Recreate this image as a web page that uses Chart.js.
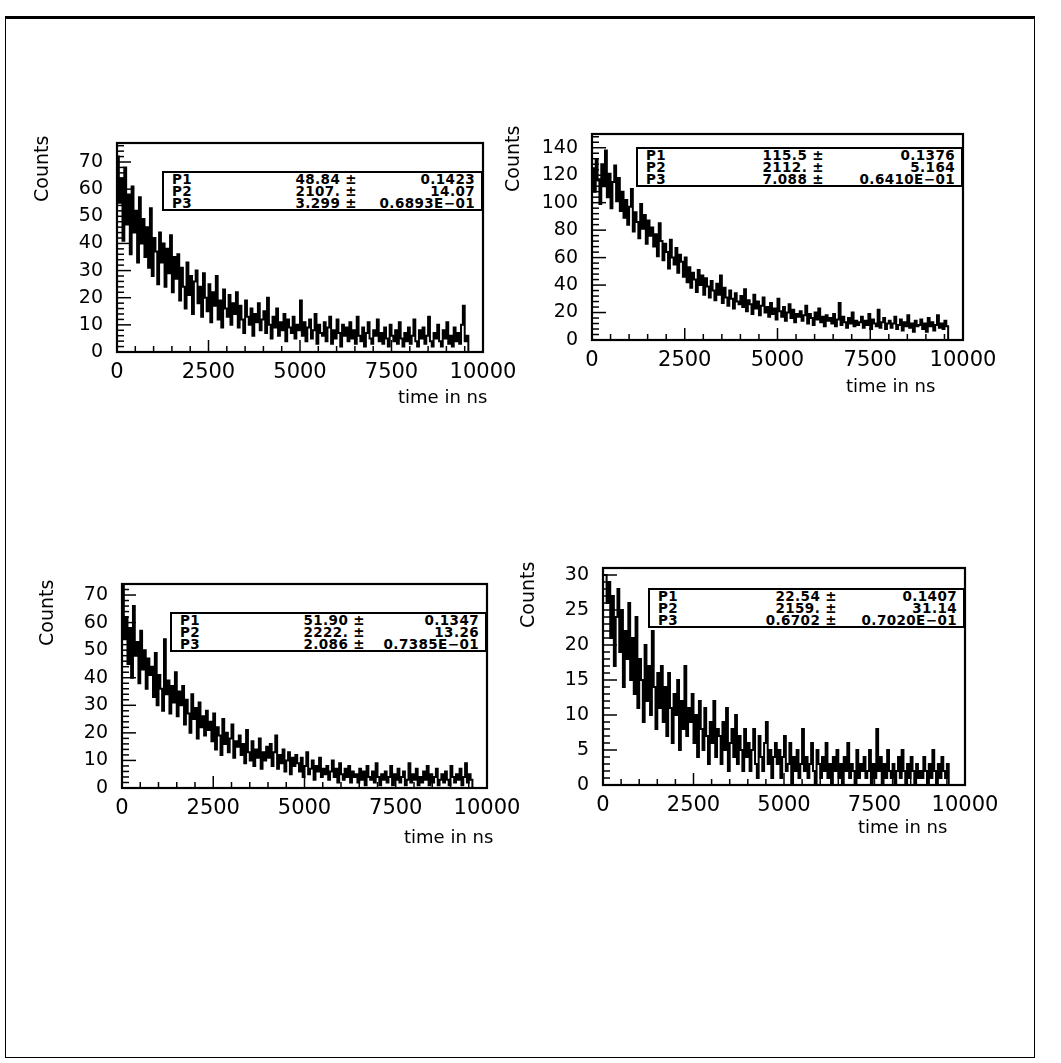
<!DOCTYPE html>
<html>
<head>
<meta charset="utf-8">
<script src="https://cdn.jsdelivr.net/npm/chart.js@4.4.1/dist/chart.umd.min.js"></script>
<style>
  body { margin: 0; background: #fff; width: 1061px; height: 1063px; position: relative; overflow: hidden; font-family: "DejaVu Sans", sans-serif; color: #000; }
  canvas { position: absolute; }
  .frame { position: absolute; left: 5px; top: 16px; width: 1028px; height: 1038px; border: 1.5px solid #000; border-top-width: 3px; }
  .ylab { position: absolute; transform: rotate(-90deg); transform-origin: left top; font-size: 19px; white-space: nowrap; }
  .xlab { position: absolute; font-size: 18px; white-space: nowrap; }
  .fit { position: absolute; border: 2px solid #000; font-size: 13.5px; font-weight: bold; letter-spacing: 0.4px; height: 40px; box-sizing: border-box; padding-top: 0; background: #fff; }
  .fit div { position: relative; height: 12px; line-height: 12px; }
  .fit .n { position: absolute; left: 8px; }
  .fit .v { position: absolute; }
  .fit .e { position: absolute; right: 6px; }
</style>
</head>
<body>
<div class="frame"></div>

<canvas id="c1"></canvas>
<canvas id="c2"></canvas>
<canvas id="c3"></canvas>
<canvas id="c4"></canvas>

<div class="ylab" style="left:30px;top:202px">Counts</div>
<div class="ylab" style="left:501px;top:192px">Counts</div>
<div class="ylab" style="left:35px;top:646px">Counts</div>
<div class="ylab" style="left:516px;top:628px">Counts</div>

<div class="xlab" style="left:398px;top:386px">time in ns</div>
<div class="xlab" style="left:846px;top:375px">time in ns</div>
<div class="xlab" style="left:404px;top:826px">time in ns</div>
<div class="xlab" style="left:858px;top:816px">time in ns</div>

<div class="fit" style="left:162px;top:171px;width:321px">
  <div><span class="n">P1</span><span class="v" style="right:124px">48.84 ±</span><span class="e">0.1423</span></div>
  <div><span class="n">P2</span><span class="v" style="right:124px">2107. ±</span><span class="e">14.07</span></div>
  <div><span class="n">P3</span><span class="v" style="right:124px">3.299 ±</span><span class="e">0.6893E−01</span></div>
</div>
<div class="fit" style="left:636px;top:147px;width:327px">
  <div><span class="n">P1</span><span class="v" style="right:137px">115.5 ±</span><span class="e">0.1376</span></div>
  <div><span class="n">P2</span><span class="v" style="right:137px">2112. ±</span><span class="e">5.164</span></div>
  <div><span class="n">P3</span><span class="v" style="right:137px">7.088 ±</span><span class="e">0.6410E−01</span></div>
</div>
<div class="fit" style="left:170px;top:612px;width:317px">
  <div><span class="n">P1</span><span class="v" style="right:120px">51.90 ±</span><span class="e">0.1347</span></div>
  <div><span class="n">P2</span><span class="v" style="right:120px">2222. ±</span><span class="e">13.26</span></div>
  <div><span class="n">P3</span><span class="v" style="right:120px">2.086 ±</span><span class="e">0.7385E−01</span></div>
</div>
<div class="fit" style="left:648px;top:588px;width:317px">
  <div><span class="n">P1</span><span class="v" style="right:126px">22.54 ±</span><span class="e">0.1407</span></div>
  <div><span class="n">P2</span><span class="v" style="right:126px">2159. ±</span><span class="e">31.14</span></div>
  <div><span class="n">P3</span><span class="v" style="right:126px">0.6702 ±</span><span class="e">0.7020E−01</span></div>
</div>

<script>
// histogram bins: 50 ns wide, starting at 0 (16 bins per row = 800 ns)
const binWidth = 50;
const xTicks = [0, 2500, 5000, 7500, 10000];

// counts per bin
const counts1 = [
  72, 55, 64, 41, 68, 47, 58, 36, 61, 44, 52, 33, 57, 40, 49, 35,
  46, 31, 53, 28, 42, 37, 25, 44, 33, 40, 24, 38, 29, 43, 22, 35,
  27, 36, 19, 31, 24, 16, 33, 21, 28, 14, 26, 30, 18, 24, 13, 29,
  20, 15, 25, 11, 22, 17, 28, 12, 19, 9, 23, 16, 13, 21, 10, 18,
  14, 22, 9, 17, 12, 7, 19, 13, 10, 16, 6, 14, 11, 18, 8, 12,
  15, 7, 20, 10, 5, 13, 9, 16, 6, 11, 8, 14, 4, 12, 9, 7,
  13, 5, 10, 8, 19, 6, 11, 4, 9, 12, 5, 8, 14, 3, 10, 7,
  6, 11, 4, 9, 13, 3, 8, 5, 12, 7, 2, 10, 6, 9, 4, 11,
  5, 8, 3, 13, 6, 4, 9, 2, 7, 11, 5, 3, 8, 6, 12, 4,
  7, 3, 9, 5, 2, 10, 6, 4, 8, 3, 11, 5, 2, 7, 4, 9,
  3, 6, 12, 4, 2, 8, 5, 9, 3, 6, 13, 4, 2, 7, 5, 10,
  4, 2, 8, 5, 11, 3, 6, 2, 9, 4, 7, 3, 10, 17, 4, 6];
const counts2 = [
  125, 108, 131, 117, 99, 128, 112, 138, 104, 121, 96, 115, 127, 101, 118, 94,
  108, 89, 102, 84, 97, 110, 79, 93, 86, 74, 99, 81, 91, 70, 87, 76,
  82, 68, 77, 61, 85, 72, 58, 70, 64, 52, 73, 60, 55, 67, 49, 62,
  57, 46, 60, 42, 53, 38, 49, 44, 35, 51, 40, 47, 33, 45, 39, 31,
  43, 36, 29, 41, 33, 47, 27, 38, 31, 25, 36, 30, 23, 34, 28, 26,
  32, 24, 37, 21, 29, 26, 19, 33, 23, 28, 18, 25, 31, 20, 24, 17,
  27, 19, 23, 15, 30, 21, 17, 24, 14, 20, 26, 16, 22, 13, 19, 17,
  21, 14, 18, 25, 12, 19, 16, 11, 20, 15, 23, 13, 17, 10, 18, 14,
  16, 12, 19, 10, 15, 27, 11, 17, 13, 9, 16, 12, 20, 10, 14, 11,
  13, 17, 9, 14, 11, 19, 8, 15, 12, 10, 22, 9, 13, 16, 8, 12,
  14, 9, 12, 17, 8, 11, 15, 7, 13, 10, 18, 9, 12, 6, 14, 10,
  11, 15, 8, 12, 6, 16, 10, 13, 7, 11, 18, 9, 12, 8, 14, 10];
const counts3 = [
  77, 54, 62, 45, 58, 40, 66, 48, 53, 38, 57, 43, 50, 36, 47, 41,
  44, 33, 49, 30, 41, 36, 28, 54, 34, 39, 27, 37, 31, 42, 26, 35,
  30, 37, 23, 32, 27, 20, 34, 25, 29, 18, 31, 22, 26, 19, 28, 21,
  24, 17, 27, 14, 22, 19, 12, 25, 16, 20, 13, 18, 23, 11, 17, 15,
  19, 12, 16, 9, 21, 13, 10, 17, 8, 14, 11, 18, 7, 13, 10, 15,
  11, 16, 8, 13, 19, 7, 12, 9, 14, 6, 10, 13, 5, 11, 8, 12,
  9, 6, 11, 4, 8, 13, 5, 7, 10, 3, 8, 6, 11, 4, 7, 5,
  8, 3, 6, 10, 4, 7, 2, 9, 5, 3, 7, 4, 8, 2, 6, 4,
  5, 2, 7, 3, 6, 1, 8, 4, 3, 6, 2, 9, 4, 1, 5, 3,
  6, 2, 4, 8, 1, 5, 3, 7, 2, 4, 6, 1, 3, 9, 2, 5,
  3, 7, 1, 4, 2, 6, 3, 8, 1, 5, 2, 4, 7, 1, 3, 5,
  2, 6, 3, 1, 8, 4, 2, 5, 3, 7, 1, 4, 9, 2, 5, 3];
const counts4 = [
  30, 30, 26, 29, 21, 27, 17, 24, 28, 19, 25, 14, 22, 18, 26, 15,
  21, 13, 24, 11, 18, 15, 9, 20, 12, 17, 10, 22, 14, 8, 16, 11,
  17, 9, 14, 7, 16, 11, 6, 13, 10, 15, 5, 12, 8, 17, 7, 11,
  9, 13, 6, 10, 4, 12, 8, 5, 11, 7, 3, 9, 6, 12, 4, 8,
  7, 3, 9, 5, 11, 2, 6, 8, 4, 10, 3, 7, 5, 2, 8, 4,
  6, 2, 5, 8, 3, 1, 7, 4, 2, 6, 9, 3, 5, 1, 4, 6,
  3, 5, 1, 4, 7, 2, 3, 6, 0, 4, 2, 5, 1, 3, 8, 2,
  4, 1, 3, 6, 2, 0, 5, 3, 1, 4, 2, 6, 1, 3, 0, 4,
  2, 5, 1, 3, 0, 4, 2, 6, 1, 3, 2, 0, 5, 1, 3, 2,
  4, 1, 2, 5, 0, 3, 1, 8, 2, 4, 0, 3, 1, 5, 2, 1,
  3, 0, 2, 4, 1, 5, 2, 0, 3, 1, 4, 2, 0, 3, 1, 2,
  1, 4, 2, 0, 3, 1, 5, 2, 0, 3, 1, 4, 2, 1, 3, 0];

// PAW style frame with inward ticks
const pawAxes = {
  id: "pawAxes",
  afterDraw(chart, args, opts) {
    const ctx = chart.ctx;
    const a = chart.chartArea;
    const x = chart.scales.x;
    const y = chart.scales.y;
    ctx.save();
    ctx.strokeStyle = "#000";
    ctx.lineWidth = 1.5;
    const nY = Math.floor(y.max / opts.yMinor + 1e-6);
    for (let i = 0; i <= nY; i++) {
      const v = i * opts.yMinor;
      const r = v / opts.yMajor;
      const major = Math.abs(r - Math.round(r)) < 1e-6;
      const py = y.getPixelForValue(v);
      ctx.beginPath();
      ctx.moveTo(a.left, py);
      ctx.lineTo(a.left + (major ? 14 : 7), py);
      ctx.stroke();
    }
    for (let i = 0; i <= 20; i++) {
      const v = i * 500;
      const major = i % 5 == 0;
      const px = x.getPixelForValue(v);
      ctx.beginPath();
      ctx.moveTo(px, a.bottom);
      ctx.lineTo(px, a.bottom - (major ? 12 : 6));
      ctx.stroke();
    }
    ctx.lineWidth = 2.2;
    ctx.strokeRect(a.left, a.top, a.right - a.left, a.bottom - a.top);
    ctx.restore();
  },
};

function histPoints(counts) {
  const pts = [{ x: 0, y: 0 }];
  counts.forEach((c, i) => pts.push({ x: i * binWidth, y: c }));
  pts.push({ x: counts.length * binWidth, y: counts[counts.length - 1] });
  pts.push({ x: counts.length * binWidth, y: 0 });
  return pts;
}

// box = left, top, right, bottom of the plot frame in page pixels
function makePanel(id, box, counts, yMax, yMajor, yMinor) {
  const padL = 80, padT = 10, padR = 50, padB = 48;
  const cv = document.getElementById(id);
  cv.width = box[2] - box[0] + padL + padR;
  cv.height = box[3] - box[1] + padT + padB;
  cv.style.left = box[0] - padL + "px";
  cv.style.top = box[1] - padT + "px";
  new Chart(cv, {
    type: "line",
    data: {
      datasets: [
        {
          data: histPoints(counts),
          borderColor: "#000",
          borderWidth: 2,
          pointRadius: 0,
          stepped: true,
          fill: false,
        },
      ],
    },
    options: {
      responsive: false,
      animation: false,
      layout: { padding: { left: 0, top: padT, right: padR, bottom: 0 } },
      plugins: {
        legend: { display: false },
        tooltip: { enabled: false },
        pawAxes: { yMajor: yMajor, yMinor: yMinor },
      },
      scales: {
        x: {
          type: "linear",
          min: 0,
          max: 10000,
          afterFit: (s) => { s.height = padB; s.paddingLeft = 0; s.paddingRight = 0; },
          afterBuildTicks: (s) => { s.ticks = xTicks.map((v) => ({ value: v })); },
          grid: { display: false, drawTicks: false },
          border: { display: false },
          ticks: {
            color: "#000", padding: 8, maxRotation: 0, autoSkip: false,
            font: { family: "DejaVu Sans", size: 21 },
            callback: (v) => String(v),
          },
        },
        y: {
          min: 0,
          max: yMax,
          afterFit: (s) => { s.width = padL; s.paddingTop = 0; s.paddingBottom = 0; },
          grid: { display: false, drawTicks: false },
          border: { display: false },
          ticks: {
            color: "#000", padding: 14, stepSize: yMajor, includeBounds: false,
            font: { family: "DejaVu Sans", size: 19 },
            callback: (v) => String(v),
          },
        },
      },
    },
    plugins: [pawAxes],
  });
}

makePanel("c1", [117, 143, 483, 352], counts1, 77, 10, 2);
makePanel("c2", [592, 134, 963, 340], counts2, 150, 20, 4);
makePanel("c3", [122, 584, 487, 788], counts3, 74, 10, 2);
makePanel("c4", [603, 568, 965, 785], counts4, 31, 5, 1);
</script>
</body>
</html>
